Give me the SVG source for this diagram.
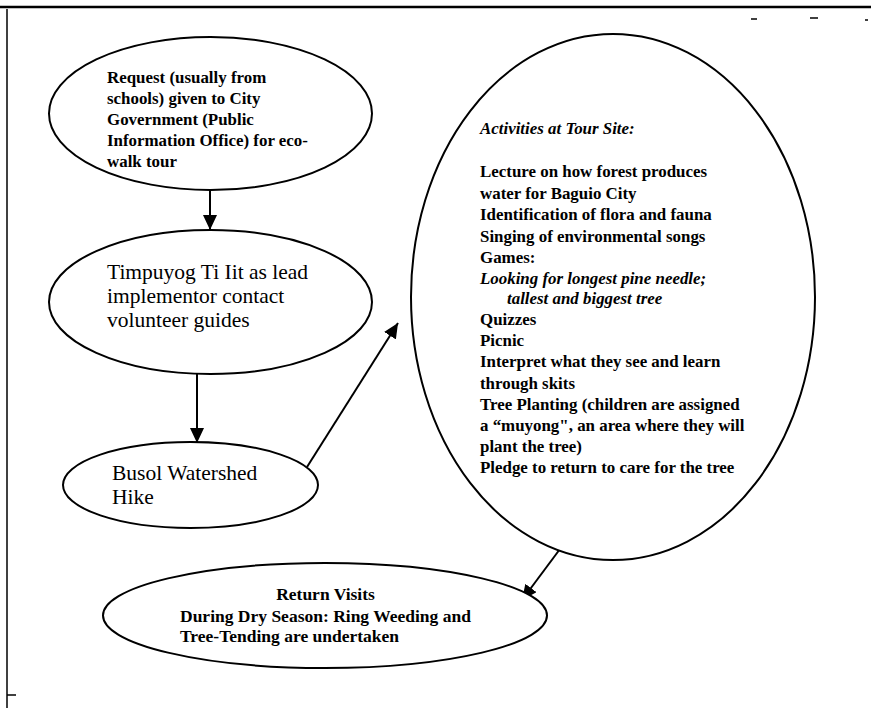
<svg xmlns="http://www.w3.org/2000/svg" width="871" height="708" viewBox="0 0 871 708">
  <style>
    .bg { fill: #ffffff; }
    .node { fill: #ffffff; stroke: #000000; stroke-width: 2; }
    .frame { stroke: #000000; fill: none; }
    .edge { stroke: #000000; stroke-width: 2; fill: none; }
    .t { font-family: "Liberation Serif", "Times New Roman", serif; fill: #000000; }
    .b { font-weight: bold; font-size: 16.9px; }
    .bi { font-weight: bold; font-style: italic; font-size: 16.9px; }
    .r { font-size: 21.5px; }
    .rv { font-weight: bold; font-size: 17.5px; }
  </style>
  <defs>
    <marker id="arrow" markerUnits="userSpaceOnUse" markerWidth="16" markerHeight="14" viewBox="0 0 16 14" refX="15" refY="7" orient="auto">
      <path d="M0,0 L15,7 L0,14 Z" fill="#000000"/>
    </marker>
  </defs>
  <rect class="bg" x="0" y="0" width="871" height="708"/>

  <g id="frame">
    <line class="frame" x1="0" y1="7" x2="871" y2="7" stroke-width="2.5"/>
    <line class="frame" x1="7" y1="9" x2="7" y2="708" stroke-width="1.5"/>
    <line class="frame" x1="7" y1="695" x2="16" y2="695" stroke-width="1.5"/>
    <line class="frame" x1="751" y1="19" x2="757" y2="19" stroke-width="1.5"/>
    <line class="frame" x1="810" y1="18" x2="818" y2="18" stroke-width="1.5"/>
    <line class="frame" x1="865" y1="20" x2="868" y2="20" stroke-width="1.5"/>
  </g>

  <g id="connectors">
    <line class="edge" x1="210" y1="190" x2="210" y2="230" marker-end="url(#arrow)"/>
    <line class="edge" x1="197" y1="374" x2="197" y2="443" marker-end="url(#arrow)"/>
    <line class="edge" x1="307" y1="467" x2="398" y2="323" marker-end="url(#arrow)"/>
    <line class="edge" x1="560" y1="549" x2="522" y2="600" marker-end="url(#arrow)"/>
  </g>

  <g id="node-request">
    <ellipse class="node" cx="210.5" cy="113.5" rx="161.5" ry="76.5"/>
    <text class="t b" x="107" y="83">Request (usually from</text>
    <text class="t b" x="107" y="104">schools) given to City</text>
    <text class="t b" x="107" y="124.5">Government (Public</text>
    <text class="t b" x="107" y="145.5">Information Office) for eco-</text>
    <text class="t b" x="107" y="166.5">walk tour</text>
  </g>

  <g id="node-timpuyog">
    <ellipse class="node" cx="210.5" cy="302" rx="161.5" ry="72"/>
    <text class="t r" x="107" y="279">Timpuyog Ti Iit as lead</text>
    <text class="t r" x="107" y="303">implementor contact</text>
    <text class="t r" x="107" y="327">volunteer guides</text>
  </g>

  <g id="node-busol">
    <ellipse class="node" cx="190.5" cy="485" rx="127.5" ry="43"/>
    <text class="t r" x="112" y="480">Busol Watershed</text>
    <text class="t r" x="112" y="504">Hike</text>
  </g>

  <g id="node-activities">
    <ellipse class="node" cx="613" cy="297" rx="202" ry="263"/>
    <text class="t bi" x="480" y="134">Activities at Tour Site:</text>
    <text class="t b" x="480" y="177">Lecture on how forest produces</text>
    <text class="t b" x="480" y="198.5">water for Baguio City</text>
    <text class="t b" x="480" y="220">Identification of flora and fauna</text>
    <text class="t b" x="480" y="241.5">Singing of environmental songs</text>
    <text class="t b" x="480" y="263">Games:</text>
    <text class="t bi" x="480" y="283.5">Looking for longest pine needle;</text>
    <text class="t bi" x="507" y="304">tallest and biggest tree</text>
    <text class="t b" x="480" y="325">Quizzes</text>
    <text class="t b" x="480" y="346">Picnic</text>
    <text class="t b" x="480" y="367">Interpret what they see and learn</text>
    <text class="t b" x="480" y="388.5">through skits</text>
    <text class="t b" x="480" y="410">Tree Planting (children are assigned</text>
    <text class="t b" x="480" y="431">a “muyong", an area where they will</text>
    <text class="t b" x="480" y="452">plant the tree)</text>
    <text class="t b" x="480" y="473">Pledge to return to care for the tree</text>
  </g>

  <g id="node-return">
    <ellipse class="node" cx="325" cy="615.5" rx="222" ry="52.5"/>
    <text class="t rv" x="325.5" y="600" text-anchor="middle">Return Visits</text>
    <text class="t rv" x="180" y="621.5">During Dry Season: Ring Weeding and</text>
    <text class="t rv" x="180" y="642">Tree-Tending are undertaken</text>
  </g>
</svg>
